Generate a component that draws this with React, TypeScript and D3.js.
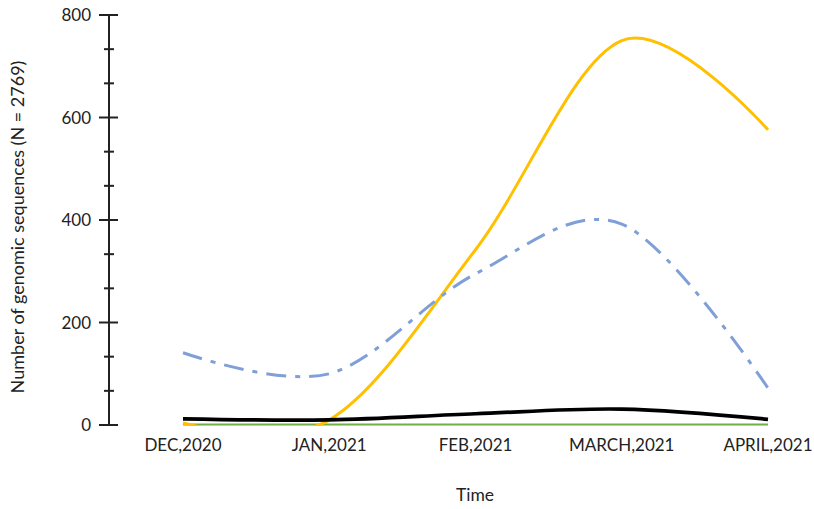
import React from "react";
import * as d3 from "d3";

const categories = ["DEC,2020", "JAN,2021", "FEB,2021", "MARCH,2021", "APRIL,2021"];
const yellowSeries = [4, 10, 342, 750, 576];
const blueSeries = [141, 100, 295, 392, 72];
const blackSeries = [12, 10, 22, 31, 11];
const greenSeries = [1, 1, 1, 1, 1];
const majorTicks = [0, 200, 400, 600, 800];

export default function App() {
  const W = 814, H = 509;
  const x = d3.scalePoint<string>().domain(categories).range([183, 768]);
  const y = d3.scaleLinear().domain([0, 800]).range([425, 15]);
  const axisX = 109;
  const minorTicks = d3.range(0, 800, 200 / 3).filter((v) => !majorTicks.some((m) => Math.abs(m - v) < 1));
  const smooth = (vals: number[]) =>
    d3.line<number>()
      .x((_, i) => x(categories[i]) as number)
      .y((v) => y(v))
      .curve(d3.curveCardinal.tension(0))(vals) as string;
  const font = "Lato, 'Open Sans', sans-serif";
  return (
    <svg width={W} height={H} style={{ position: "absolute", left: 0, top: 0, background: "#fff" }}>
      <defs>
        <clipPath id="plot">
          <rect x={axisX} y={y(800) - 5} width={W - axisX} height={y(0) - y(800) + 6} />
        </clipPath>
      </defs>
      <g clipPath="url(#plot)">
        <path d={smooth(greenSeries)} fill="none" stroke="#70AD47" strokeWidth={2} />
        <path d={smooth(yellowSeries)} fill="none" stroke="#FFC000" strokeWidth={3} />
        <path d={smooth(blackSeries)} fill="none" stroke="#000" strokeWidth={3.7} />
        <path d={smooth(blueSeries)} fill="none" stroke="#7F9FD8" strokeWidth={3} strokeDasharray="20,9,5,9" />
      </g>
      <line x1={axisX} x2={axisX} y1={y(800)} y2={y(0)} stroke="#222" strokeWidth={2} />
      {majorTicks.map((t) => (
        <g key={t}>
          <line x1={axisX - 10} x2={axisX + 9} y1={y(t)} y2={y(t)} stroke="#222" strokeWidth={2} />
          <text x={91} y={y(t)} dy="0.36em" textAnchor="end" fontFamily={font} fontSize={17} fill="#222">{t}</text>
        </g>
      ))}
      {minorTicks.map((t) => (
        <line key={t} x1={axisX - 5} x2={axisX + 5} y1={y(t)} y2={y(t)} stroke="#222" strokeWidth={2} />
      ))}
      {categories.map((c) => (
        <text key={c} x={x(c)} y={451} textAnchor="middle" fontFamily={font} fontSize={17} fill="#222">{c}</text>
      ))}
      <text x={475} y={501} textAnchor="middle" fontFamily={font} fontSize={17.5} fill="#222">Time</text>
      <text transform={`translate(24,227) rotate(-90)`} textAnchor="middle" fontFamily={font} fontSize={18} fill="#222">
        Number of genomic sequences (N = 2769)
      </text>
    </svg>
  );
}
